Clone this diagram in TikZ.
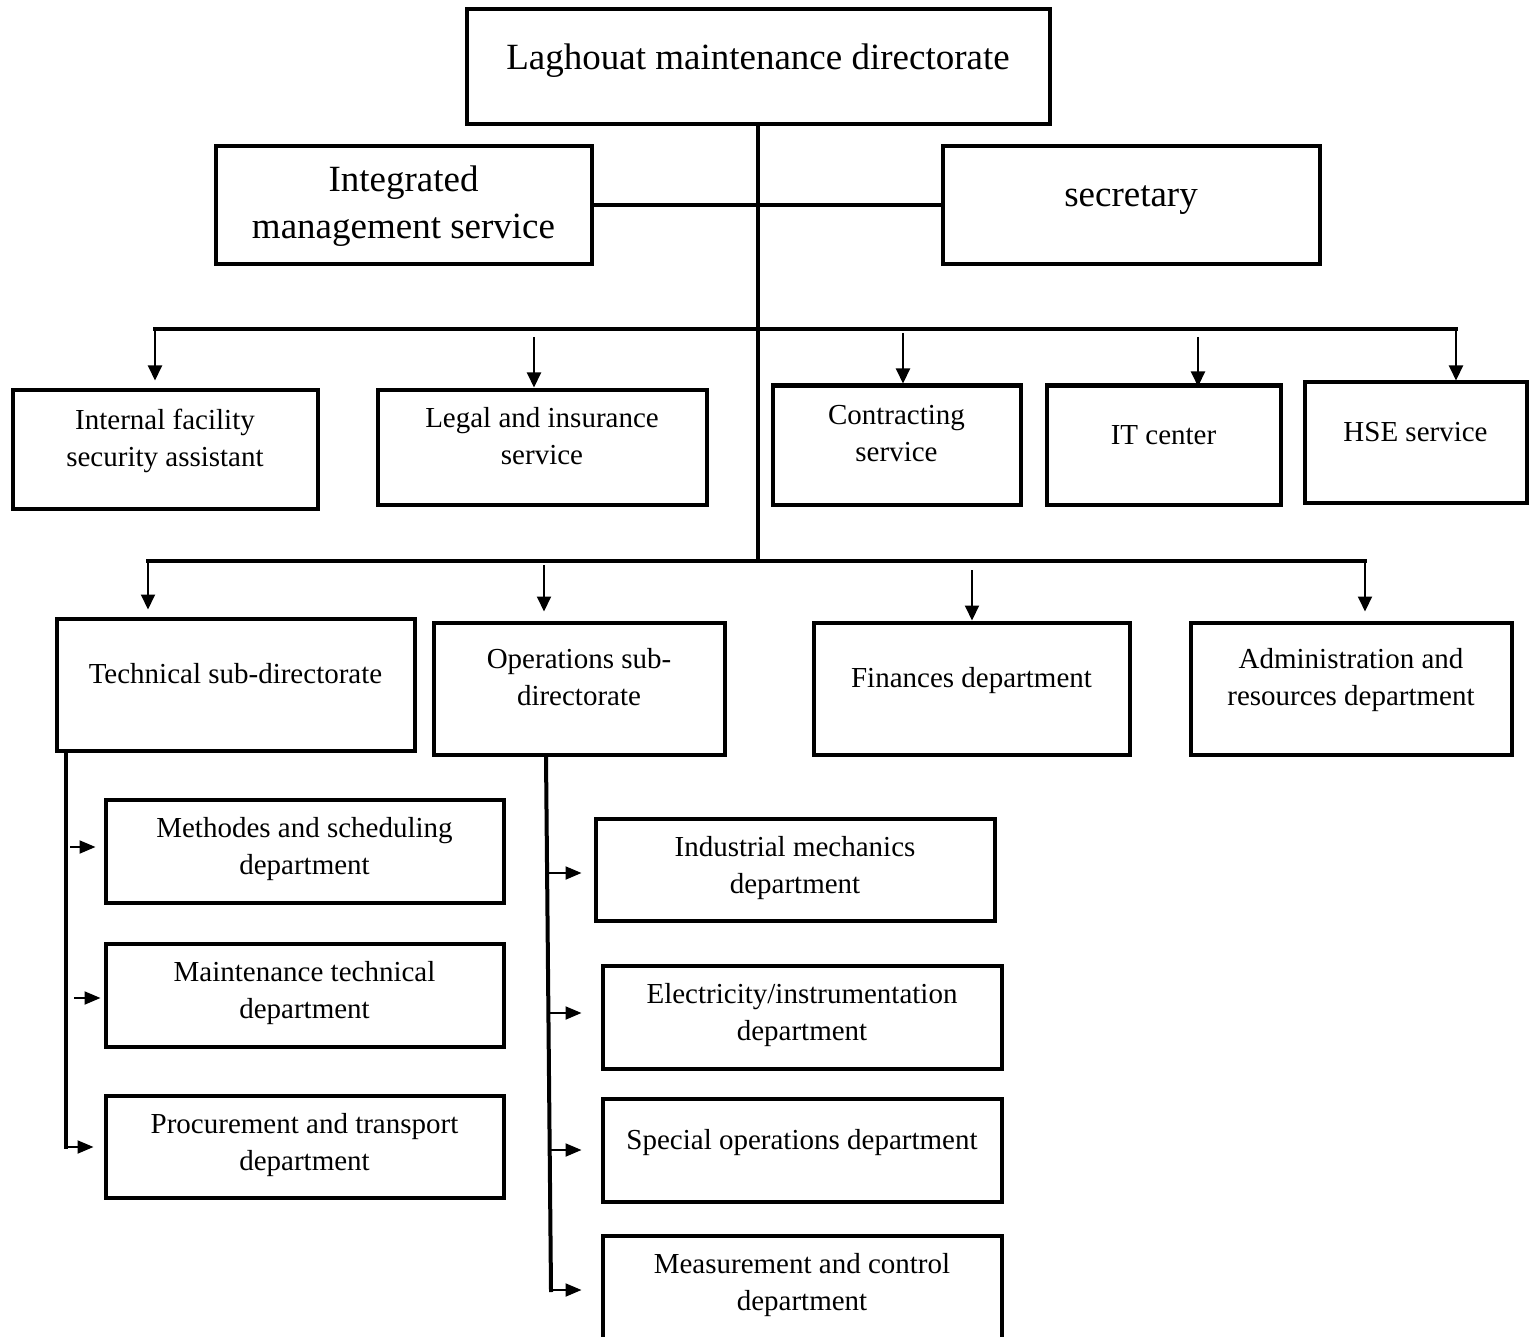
\documentclass[tikz,border=0pt]{standalone}
\usepackage{fontspec}
\setmainfont{Liberation Serif}
\usetikzlibrary{arrows.meta}
\begin{document}
\begin{tikzpicture}[x=1pt,y=-1pt,
  box/.style={draw, line width=4pt, rectangle, inner sep=0pt, align=center,
    font=\fontsize{29}{37}\selectfont,
    execute at begin node=\strut, execute at end node=\strut},
  bigbox/.style={box, font=\fontsize{37}{47}\selectfont},
  % vertical placement of the text inside the boxes
  hione/.style={text depth=27.1pt},
  hitwo/.style={text depth=23.1pt},
  mid/.style={text depth=10.1pt},
  bighi/.style={text depth=28.1pt},
  bighis/.style={text depth=30.1pt},
  biglo/.style={text depth=6.1pt},
  trunk/.style={line width=4pt, line cap=rect},
  arr/.style={line width=2pt, -{Triangle[length=15pt,width=14pt]}},
  sarr/.style={line width=2pt, -{Triangle[length=16pt,width=13pt]}},
]
\useasboundingbox (0,0) rectangle (1531,1337);
\fill[white] (0,0) rectangle (1531,1337);

% top level
\node[bigbox, bighi, minimum width=583pt, minimum height=115pt] (top) at (758,67) {Laghouat maintenance directorate};
\node[bigbox, biglo, minimum width=376pt, minimum height=118pt] (integ) at (403.5,205.5) {Integrated\\management service};
\node[bigbox, bighis, minimum width=377pt, minimum height=118pt] (secr) at (1131,205.5) {secretary};

% services
\node[box, hitwo, minimum width=305pt, minimum height=119pt] (ifs) at (165,449) {Internal facility\\security assistant};
\node[box, hitwo, minimum width=329pt, minimum height=115pt] (legal) at (542,447) {Legal and insurance\\service};
\node[box, hitwo, minimum width=248pt, minimum height=119pt] (contr) at (896.5,445) {Contracting\\service};
\node[box, hione, minimum width=234pt, minimum height=119pt] (itc) at (1163.5,445) {IT center};
\node[box, hione, minimum width=222pt, minimum height=120pt] (hse) at (1415.5,442.5) {HSE service};

% sub-directorates and departments
\node[box, hione, minimum width=358pt, minimum height=132pt] (tech) at (235.5,684.5) {Technical sub-directorate};
\node[box, hitwo, minimum width=291pt, minimum height=132pt] (ops) at (579,688.5) {Operations sub-\\directorate};
\node[box, hione, minimum width=316pt, minimum height=132pt] (fin) at (971.5,688.5) {Finances department};
\node[box, hitwo, minimum width=321pt, minimum height=132pt] (adm) at (1351,688.5) {Administration and\\resources department};

% technical units
\node[box, mid, minimum width=398pt, minimum height=103pt] (meth) at (304.5,851) {Methodes and scheduling\\department};
\node[box, mid, minimum width=398pt, minimum height=103pt] (mtech) at (304.5,995) {Maintenance technical\\department};
\node[box, mid, minimum width=398pt, minimum height=102pt] (proc) at (304.5,1146.5) {Procurement and transport\\department};

% operations units
\node[box, mid, minimum width=399pt, minimum height=102pt] (ind) at (795,869.5) {Industrial mechanics\\department};
\node[box, mid, minimum width=399pt, minimum height=103pt] (elec) at (802,1017) {Electricity/instrumentation\\department};
\node[box, hione, minimum width=399pt, minimum height=103pt] (spec) at (802,1150) {Special operations department};
\node[box, mid, minimum width=399pt, minimum height=103pt] (meas) at (802,1287) {Measurement and control\\department};

% buses and taps
\coordinate (b1l) at (155,329);
\coordinate (b1r) at (1456,329);
\coordinate (b2l) at (148,561);
\coordinate (b2r) at (1365,561);
\coordinate (t2) at (534,337);
\coordinate (t3) at (903,333);
\coordinate (t4) at (1198,337);
\coordinate (u2) at (544,565);
\coordinate (u3) at (972,570);

% main trunk
\draw[trunk] (top.south) -- (top.south |- b2l);
\draw[trunk] (integ.east) -- (secr.west);
\draw[trunk] (b1l) -- (b1r);
\draw[trunk] (b2l) -- (b2r);

% services level arrows
\draw[arr, shorten >=7pt] (b1l) -- (b1l |- ifs.north);
\draw[arr] (t2) -- (t2 |- legal.north);
\draw[arr] (t3) -- (t3 |- contr.north);
\draw[arr, shorten >=-3pt] (t4) -- (t4 |- itc.north);
\draw[arr] (b1r) -- (b1r |- hse.north);

% sub-directorate level arrows
\draw[arr, shorten >=7pt] (b2l) -- (b2l |- tech.north);
\draw[arr, shorten >=9pt] (u2) -- (u2 |- ops.north);
\draw[arr] (u3) -- (u3 |- fin.north);
\draw[arr, shorten >=9pt] (b2r) -- (b2r |- adm.north);

% technical branch
\coordinate (tv) at (66,0);
\coordinate (tc) at (66,1147);
\coordinate (a1) at (70,847);
\coordinate (a2) at (74,998);
\draw[trunk] (tech.south -| tv) -- (tc);
\draw[sarr, shorten >=10pt] (tc) -- (tc -| proc.west);
\draw[sarr, shorten >=8pt] (a1) -- (a1 -| meth.west);
\draw[sarr, shorten >=3pt] (a2) -- (a2 -| mtech.west);

% operations branch
\coordinate (ov) at (546,0);
\coordinate (ob) at (551,1290);
\coordinate (o1) at (549,873);
\coordinate (o2) at (550,1013);
\coordinate (o3) at (550,1150);
\draw[trunk] (ops.south -| ov) -- (ob);
\draw[sarr, shorten >=12pt] (o1) -- (o1 -| ind.west);
\draw[sarr, shorten >=19pt] (o2) -- (o2 -| elec.west);
\draw[sarr, shorten >=19pt] (o3) -- (o3 -| spec.west);
\draw[sarr, shorten >=19pt] (ob) -- (ob -| meas.west);
\end{tikzpicture}
\end{document}
